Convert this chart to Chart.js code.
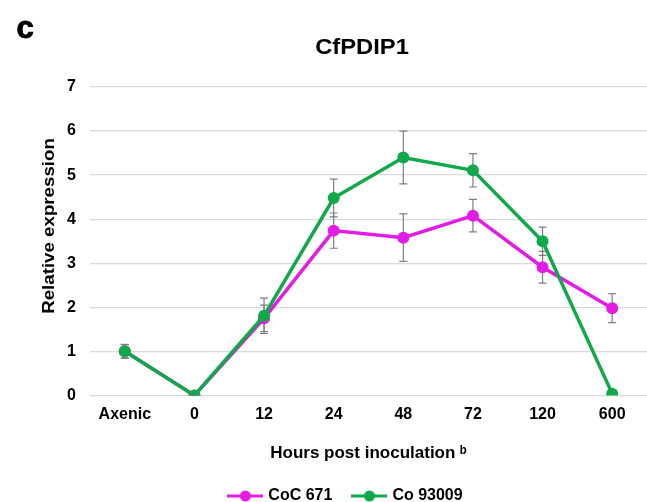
<!DOCTYPE html>
<html>
<head>
<meta charset="utf-8">
<script src="https://cdn.jsdelivr.net/npm/chart.js@4.4.0/dist/chart.umd.min.js"></script>
<style>
	html, body { margin: 0; padding: 0; background: #fff; }
	#wrap { width: 647px; height: 502px; }
</style>
</head>
<body>
<div id="wrap"><canvas id="c"></canvas></div>
<script>
var labels = ['Axenic', '0', '12', '24', '48', '72', '120', '600'];
var cocValues = [1.0, 0.0, 1.75, 3.74, 3.58, 4.08, 2.91, 1.98];
var cocErr = [0.15, 0.0, 0.3, 0.4, 0.54, 0.37, 0.36, 0.33];
var coValues = [1.0, 0.0, 1.81, 4.48, 5.40, 5.11, 3.50, 0.04];
var coErr = [0.16, 0.0, 0.4, 0.43, 0.6, 0.38, 0.32, 0.0];
var yTicks = [0, 1, 2, 3, 4, 5, 6, 7];

var MAGENTA = '#e31ce3';
var GREEN = '#10a84b';
var FONT = "'Liberation Sans', Arial, 'DejaVu Sans', sans-serif";

// legend marker: short line with a dot in the middle
function legendMarker(color) {
	var cv = document.createElement('canvas');
	cv.width = 36; cv.height = 14;
	var g = cv.getContext('2d');
	g.strokeStyle = color;
	g.lineWidth = 3;
	g.beginPath(); g.moveTo(0, 7); g.lineTo(36, 7); g.stroke();
	g.fillStyle = color;
	g.beginPath(); g.arc(18, 7, 5.5, 0, Math.PI * 2); g.fill();
	return cv;
}

var errorBars = {
	id: 'errorBars',
	beforeDatasetsDraw: function (chart) {
		var ctx = chart.ctx;
		var y = chart.scales.y;
		ctx.save();
		ctx.strokeStyle = '#7f7f7f';
		ctx.lineWidth = 1.2;
		chart.data.datasets.forEach(function (ds, i) {
			var meta = chart.getDatasetMeta(i);
			ds.errors.forEach(function (e, j) {
				if (!e) return;
				var px = meta.data[j].x;
				var top = y.getPixelForValue(ds.data[j] + e);
				var bot = y.getPixelForValue(ds.data[j] - e);
				ctx.beginPath();
				ctx.moveTo(px, top); ctx.lineTo(px, bot);
				ctx.moveTo(px - 4, top); ctx.lineTo(px + 4, top);
				ctx.moveTo(px - 4, bot); ctx.lineTo(px + 4, bot);
				ctx.stroke();
			});
		});
		ctx.restore();
	}
};

// panel letter, chart title and y axis title (placed like the original figure)
var figureText = {
	id: 'figureText',
	afterDraw: function (chart) {
		var ctx = chart.ctx;
		var area = chart.chartArea;
		ctx.save();
		ctx.fillStyle = '#000';
		ctx.strokeStyle = '#000';
		ctx.textBaseline = 'alphabetic';
		ctx.font = 'bold 31px ' + FONT;
		ctx.lineWidth = 1;
		ctx.fillText('c', 16.5, 38);
		ctx.strokeText('c', 16.5, 38);
		ctx.restore();

		ctx.save();
		ctx.fillStyle = '#000';
		ctx.textAlign = 'center';
		ctx.textBaseline = 'middle';
		ctx.font = 'bold 22px ' + FONT;
		ctx.translate(362, 48);
		ctx.scale(1.08, 1);
		ctx.fillText('CfPDIP1', 0, 0);
		ctx.restore();

		ctx.save();
		ctx.fillStyle = '#000';
		ctx.textAlign = 'center';
		ctx.textBaseline = 'middle';
		ctx.font = 'bold 17px ' + FONT;
		ctx.translate(49, area.top + 139);
		ctx.rotate(-Math.PI / 2);
		ctx.scale(1.1, 1);
		ctx.fillText('Relative expression', 0, 0);
		ctx.restore();
	}
};

new Chart(document.getElementById('c'), {
	type: 'line',
	data: {
		labels: labels,
		datasets: [
			{
				label: 'Co 93009',
				data: coValues,
				errors: coErr,
				borderColor: GREEN,
				backgroundColor: GREEN,
				borderWidth: 3.5,
				pointRadius: 6,
				pointHoverRadius: 6,
				pointStyle: 'circle',
				pointBorderWidth: 0,
				tension: 0,
				legendMarker: legendMarker(GREEN)
			},
			{
				label: 'CoC 671',
				data: cocValues,
				errors: cocErr,
				borderColor: MAGENTA,
				backgroundColor: MAGENTA,
				borderWidth: 3.5,
				pointRadius: 6,
				pointHoverRadius: 6,
				pointStyle: 'circle',
				pointBorderWidth: 0,
				tension: 0,
				legendMarker: legendMarker(MAGENTA)
			}
		]
	},
	options: {
		responsive: true,
		maintainAspectRatio: false,
		animation: false,
		layout: { autoPadding: false, padding: { left: 46, right: 0, top: 87, bottom: -12 } },
		plugins: {
			title: { display: false },
			legend: {
				position: 'bottom',
				labels: {
					color: '#000',
					font: { family: FONT, size: 16, weight: 'bold' },
					usePointStyle: true,
					pointStyleWidth: 30,
					padding: 22,
					sort: function (a, b) { return b.datasetIndex - a.datasetIndex; },
					generateLabels: function (chart) {
						return chart.data.datasets.map(function (ds, i) {
							return {
								text: ds.label,
								fillStyle: ds.borderColor,
								strokeStyle: ds.borderColor,
								lineWidth: 0,
								pointStyle: ds.legendMarker,
								datasetIndex: i,
								hidden: false,
								fontColor: '#000'
							};
						});
					}
				}
			},
			tooltip: { enabled: false }
		},
		scales: {
			x: {
				offset: true,
				grid: { display: false, drawTicks: false },
				border: { display: false },
				afterFit: function (scale) {
					scale.paddingLeft = 0;
					scale.paddingRight = 0;
				},
				ticks: {
					color: '#000',
					padding: 10,
					font: { family: FONT, size: 16, weight: 'bold' }
				},
				title: {
					display: true,
					text: 'Hours post inoculation \u1d47',
					color: '#000',
					font: { family: FONT, size: 17, weight: 'bold' },
					padding: { top: 9, bottom: 2 }
				}
			},
			y: {
				min: 0,
				max: 7,
				afterBuildTicks: function (axis) {
					axis.ticks = yTicks.map(function (v) { return { value: v }; });
				},
				afterFit: function (scale) {
					scale.width = 44;
				},
				grid: { color: '#d9d9d9', lineWidth: 1.3, drawTicks: false },
				border: { display: false },
				ticks: {
					color: '#000',
					padding: 14,
					font: { family: FONT, size: 16, weight: 'bold' }
				}
			}
		}
	},
	plugins: [errorBars, figureText]
});
</script>
</body>
</html>
